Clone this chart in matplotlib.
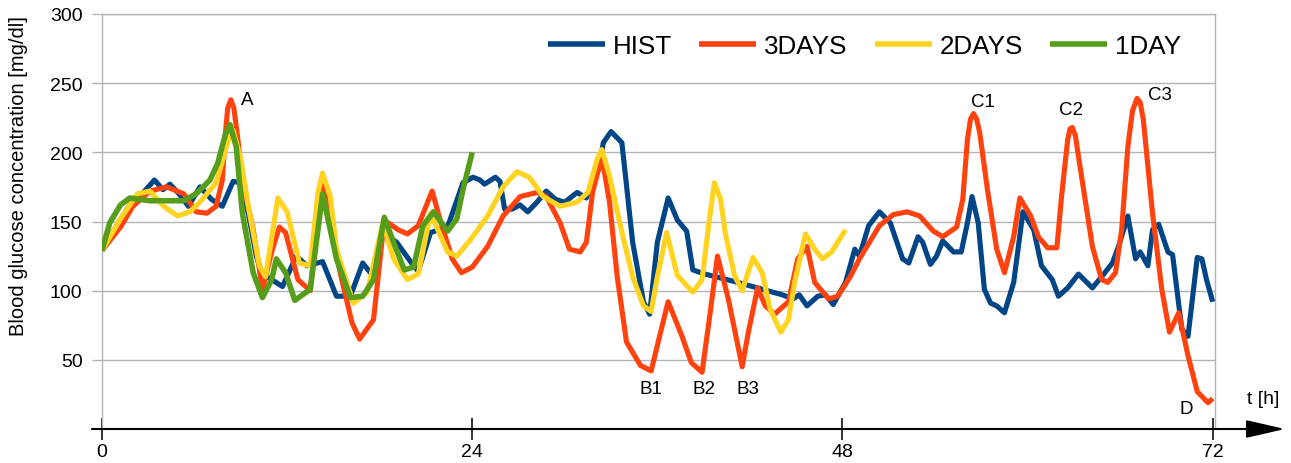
import matplotlib
matplotlib.use("Agg")
import matplotlib.pyplot as plt

plt.rcParams['font.family'] = ['Liberation Sans', 'DejaVu Sans']

# ---- data ----
hist_t = [0, 1.0, 1.8, 2.6, 3.4, 3.95, 4.4, 5.0, 5.6, 6.35, 7.1, 7.8, 8.5, 9.0, 9.5, 10.0,
          10.4, 11.0, 11.7, 12.6, 13.3, 14.3, 15.2, 16.1, 16.9, 17.6, 18.2, 19.1, 20.0, 20.5,
          21.3, 22.4, 23.4, 24.05, 24.5, 24.8, 25.5, 25.8, 26.1, 26.6, 27.1, 27.6, 28.2, 28.8,
          29.4, 30.0, 30.8, 31.4, 32.2, 32.5, 33.0, 33.7, 34.4, 35.1, 35.5, 36.0, 36.7, 37.3,
          37.9, 38.3, 39.1, 41.2, 44.1, 44.8, 45.2, 45.7, 46.4, 46.9, 47.4, 48.2, 48.8, 49.1,
          49.7, 50.4, 51.1, 51.9, 52.3, 52.9, 53.2, 53.7, 54.1, 54.5, 55.2, 55.7, 56.1, 56.4,
          56.8, 57.2, 57.6, 58.0, 58.5, 59.1, 59.7, 60.4, 60.9, 61.6, 62.0, 62.6, 63.3, 64.2,
          64.8, 65.5, 65.9, 66.5, 67.0, 67.3, 67.8, 68.1, 68.5, 69.1, 69.4, 70.0, 70.4, 71.0,
          71.3, 71.6, 72.0]
hist_v = [129, 148, 162, 170, 180, 173, 177, 170, 161, 175, 166, 161, 179, 178, 155, 125,
          112, 108, 103, 125, 118, 121, 96, 96, 120, 110, 142, 135, 121, 114,
          142, 146, 178, 182, 180, 177, 182, 179, 159, 159, 162, 157, 164, 172,
          166, 164, 171, 167, 188, 207, 215, 207, 135, 92, 83, 135, 167, 151,
          143, 115, 112, 106, 97, 94, 97, 89, 96, 97, 90, 106, 130, 125,
          147, 157, 149, 123, 120, 139, 135, 119, 125, 136, 128, 128, 149, 168,
          149, 101, 91, 89, 84, 106, 157, 144, 118, 108, 96, 102, 112, 102,
          110, 120, 132, 154, 123, 128, 118, 144, 148, 128, 126, 72, 67, 124,
          123, 108, 92]

d3_t = [0, 1.2, 2.0, 3.1, 4.2, 5.3, 6.1, 6.8, 7.4, 7.8, 8.0, 8.15, 8.35, 8.55, 8.8, 9.1,
        9.8, 10.4, 11.0, 11.5, 11.9, 12.7, 13.5, 14.1, 14.3, 14.65, 15.4, 16.2, 16.7, 17.6,
        18.3, 19.2, 19.8, 20.5, 21.4, 21.9, 22.7, 23.3, 24.0, 25.0, 26.0, 27.1, 28.2, 28.8,
        29.7, 30.3, 31.0, 31.4, 31.8, 32.4, 32.9, 33.4, 34.0, 34.9, 35.6, 36.1, 36.7, 37.6,
        38.2, 38.9, 39.4, 39.9, 40.6, 41.5, 41.9, 42.5, 43.0, 43.6, 44.5, 45.1, 45.7, 46.2,
        47.1, 47.7, 48.5, 49.1, 50.4, 51.3, 52.2, 53.0, 53.9, 54.5, 55.4, 55.8, 56.1, 56.3,
        56.5, 56.7, 56.9, 57.4, 58.0, 58.5, 59.1, 59.5, 60.2, 60.7, 61.3, 61.9, 62.2, 62.6,
        62.75, 62.9, 63.1, 63.3, 64.2, 64.8, 65.2, 65.7, 66.1, 66.5, 66.8, 67.1, 67.3, 67.5,
        68.1, 68.7, 69.2, 69.8, 70.4, 71.0, 71.7, 72.0]
d3_v = [129, 146, 161, 172, 175, 170, 157, 156, 161, 180, 214, 232, 238, 232, 210, 180,
        144, 101, 128, 146, 142, 108, 100, 164, 178, 161, 115, 77, 65, 79,
        151, 144, 141, 147, 172, 152, 123, 113, 117, 132, 154, 168, 171, 168,
        149, 130, 128, 135, 171, 197, 164, 110, 63, 46, 42, 65, 92, 67,
        48, 41, 82, 125, 94, 45, 70, 102, 89, 83, 92, 123, 132, 106,
        94, 96, 110, 123, 147, 155, 157, 154, 143, 139, 146, 166, 209, 224,
        228, 224, 214, 173, 130, 113, 139, 167, 154, 139, 131, 131, 168, 209,
        217, 218, 212, 197, 132, 108, 106, 113, 144, 204, 230, 239, 236, 224,
        156, 101, 70, 84, 53, 27, 19, 22]

d2_t = [0, 1.2, 2.3, 3.1, 4.0, 4.9, 5.7, 6.5, 7.4, 8.2, 8.5, 9.0, 9.5, 10.2, 10.6, 11.4,
        12.0, 12.8, 13.5, 14.0, 14.3, 14.8, 15.2, 16.3, 17.2, 18.2, 18.9, 19.8, 20.5, 21.3,
        22.4, 23.0, 23.9, 25.0, 26.0, 26.9, 27.7, 28.6, 29.7, 30.8, 31.5, 32.1, 32.4, 32.9,
        33.6, 34.4, 35.1, 35.6, 36.0, 36.6, 37.3, 38.3, 38.9, 39.4, 39.7, 40.1, 40.4, 41.0,
        41.5, 42.2, 42.8, 43.3, 44.0, 44.5, 44.9, 45.6, 46.2, 46.7, 47.3, 48.2]
d2_v = [129, 152, 170, 172, 161, 154, 157, 166, 178, 209, 216, 195, 160, 118, 110, 167,
        157, 120, 118, 171, 185, 168, 130, 91, 99, 149, 123, 108, 112, 156,
        128, 125, 137, 154, 175, 186, 182, 168, 161, 164, 171, 195, 202, 183,
        147, 110, 89, 85, 110, 142, 111, 99, 108, 154, 178, 166, 142, 111,
        100, 124, 113, 87, 70, 79, 106, 141, 130, 123, 128, 144]

d1_t = [0, 0.5, 1.2, 1.8, 3.1, 4.2, 5.3, 6.1, 7.0, 7.5, 8.0, 8.3, 8.7, 9.1, 9.8, 10.4,
        11.0, 11.3, 11.9, 12.5, 13.5, 14.3, 15.2, 16.1, 16.9, 17.6, 18.3, 19.0, 19.6, 20.2,
        20.8, 21.5, 22.4, 23.0, 23.4, 24.0]
d1_v = [129, 149, 162, 167, 165, 165, 165, 170, 180, 192, 213, 220, 204, 156, 113, 95,
        108, 123, 113, 93, 101, 170, 123, 95, 96, 108, 153, 132, 115, 117,
        147, 157, 143, 152, 173, 200]

series_names = ["HIST", "3DAYS", "2DAYS", "1DAY"]
series_colors = ["#004586", "#ff420e", "#ffd320", "#579d1c"]

x_ticks = [0, 24, 48, 72]
y_ticks = [50, 100, 150, 200, 250, 300]

annot_labels = ["A", "B1", "B2", "B3", "C1", "C2", "C3", "D"]
annot_t = [9.4, 35.6, 39.0, 41.85, 57.1, 62.8, 68.6, 70.3]
annot_v = [238, 29, 29, 29, 237, 231, 242, 15]

# ---- figure ----
W, H = 1291, 464
fig = plt.figure(figsize=(W / 100, H / 100), dpi=100)
ax = fig.add_axes([102 / W, 1 - 430 / H, 1113 / W, 415 / H])

lw = 3.7
for (tt, vv), name, col in zip([(hist_t, hist_v), (d3_t, d3_v), (d2_t, d2_v), (d1_t, d1_v)],
                               series_names, series_colors):
    ax.plot(tt, vv, color=col, lw=lw if name != "1DAY" else 4.0, label=name,
            solid_joinstyle='round', solid_capstyle='butt', zorder=3)

ax.set_xlim(0, 72.15)
ax.set_ylim(0, 300)

grid_col = '#b3b3b3'
ax.set_yticks(y_ticks)
ax.yaxis.grid(True, color=grid_col, lw=1.0, zorder=0)
ax.set_xticks(x_ticks)
ax.tick_params(axis='y', length=7, width=1.0, color=grid_col, pad=7, labelsize=14,
               labelcolor='black')
ax.tick_params(axis='x', direction='inout', length=16, width=1.4, color='#333333',
               pad=2, labelsize=14, labelcolor='black')

for s in ['left', 'right', 'top']:
    ax.spines[s].set_color(grid_col)
    ax.spines[s].set_linewidth(1.0)
ax.spines['bottom'].set_visible(False)

# x axis with arrow
ax.annotate('', xy=(1.0629, 0), xytext=(-0.009, 0), xycoords='axes fraction',
            textcoords='axes fraction', annotation_clip=False,
            arrowprops=dict(arrowstyle='-|>,head_length=2.4,head_width=0.55',
                            color='black', lw=1.5, shrinkA=0, shrinkB=0,
                            mutation_scale=10))

ax.text(75.3, 22, 't [h]', ha='center', va='center', fontsize=14, clip_on=False)

for lab, t, v in zip(annot_labels, annot_t, annot_v):
    ax.text(t, v, lab, ha='center', va='center', fontsize=13.5, zorder=5)

fig.text(19 / W, 1 - 176.5 / H, 'Blood glucose concentration [mg/dl]', rotation=90,
         ha='center', va='center', fontsize=14.5)

leg = ax.legend(loc='center', bbox_to_anchor=(0.685, 0.923), ncol=4, frameon=False,
                fontsize=18.7, handlelength=2.2, handletextpad=0.3, columnspacing=1.05,
                borderpad=0.2)
for h in leg.get_lines():
    h.set_linewidth(4)

fig.savefig('out.png', dpi=100)
